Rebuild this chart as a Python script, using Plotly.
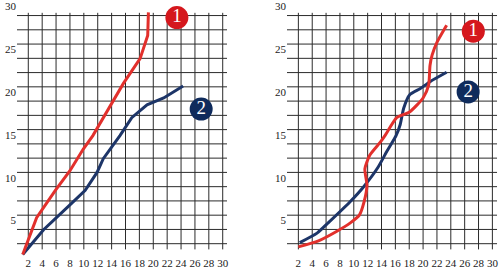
import plotly.graph_objects as go

# ---------------- data ----------------
x_ticks = list(range(2, 31, 2))
y_labels = [5, 10, 15, 20, 25, 30]
y_grid = [k * 5 / 3 for k in range(1, 18)]

# left chart
L_red_x = [1.2, 3.2, 5.9, 8.0, 9.9, 11.3, 15.7, 18.1, 19.2, 19.3]
L_red_y = [0.4, 4.7, 7.9, 10.2, 12.7, 14.3, 20.4, 23.3, 26.0, 28.7]
L_blue_x = [1.2, 4.2, 8.0, 10.2, 11.9, 12.8, 15.2, 16.9, 19.1, 21.5, 24.3]
L_blue_y = [0.4, 3.3, 6.2, 7.9, 10.0, 11.6, 14.3, 16.4, 17.9, 18.7, 20.1]

# right chart
R_red_x = [2.0, 4.9, 7.5, 9.5, 10.8, 11.5, 11.9, 11.6, 12.3, 13.8, 14.5, 16.2, 18.1, 20.0, 20.8, 21.0, 21.3, 22.0, 23.4]
R_red_y = [1.3, 2.0, 3.1, 4.1, 5.0, 6.6, 8.5, 10.4, 12.0, 13.5, 14.3, 16.4, 17.1, 18.7, 20.2, 22.5, 23.7, 25.2, 27.2]
R_blue_x = [2.2, 4.7, 6.3, 9.5, 11.4, 13.5, 14.8, 16.1, 16.7, 17.2, 18.1, 19.6, 21.0, 23.4]
R_blue_y = [1.8, 2.9, 4.1, 6.6, 8.3, 10.6, 12.5, 14.3, 15.6, 17.5, 19.1, 19.8, 20.6, 21.7]

badge_labels = ["1", "2"]
L_badge_x = [23.4, 26.9]
L_badge_y = [28.1, 17.4]
R_badge_x = [27.25, 26.5]
R_badge_y = [26.5, 19.4]

# grid extents (data coords)
GRID_X = {"L": (0.37, 30.62), "R": (0.36, 30.67)}
GRID_Y = (1.0, 28.65)

RED = "#e2302c"
NAVY = "#1d3568"
BADGE_RED = "#d5171d"
BADGE_NAVY = "#0f2b5c"
GRID = "#2b2b2b"
FONT = "Liberation Serif"

fig = go.Figure()


def grid_trace(xa, ya, gx):
    xs, ys = [], []
    for v in y_grid:
        xs += [gx[0], gx[1], None]
        ys += [v, v, None]
    for v in x_ticks:
        xs += [v, v, None]
        ys += [GRID_Y[0], GRID_Y[1], None]
    return go.Scatter(x=xs, y=ys, mode="lines", line=dict(color=GRID, width=1),
                      xaxis=xa, yaxis=ya, hoverinfo="skip", showlegend=False)


fig.add_trace(grid_trace("x", "y", GRID_X["L"]))
fig.add_trace(grid_trace("x2", "y2", GRID_X["R"]))

fig.add_trace(go.Scatter(x=L_blue_x, y=L_blue_y, mode="lines", line=dict(color=NAVY, width=3),
                         xaxis="x", yaxis="y", showlegend=False))
fig.add_trace(go.Scatter(x=L_red_x, y=L_red_y, mode="lines", line=dict(color=RED, width=3),
                         xaxis="x", yaxis="y", showlegend=False))
fig.add_trace(go.Scatter(x=R_blue_x, y=R_blue_y, mode="lines",
                         line=dict(color=NAVY, width=3, shape="spline", smoothing=0.6),
                         xaxis="x2", yaxis="y2", showlegend=False))
fig.add_trace(go.Scatter(x=R_red_x, y=R_red_y, mode="lines",
                         line=dict(color=RED, width=3, shape="spline", smoothing=0.6),
                         xaxis="x2", yaxis="y2", showlegend=False))

for bx, by, xa, ya in [(L_badge_x, L_badge_y, "x", "y"), (R_badge_x, R_badge_y, "x2", "y2")]:
    fig.add_trace(go.Scatter(
        x=bx, y=by, mode="markers+text", text=badge_labels, textposition="middle center",
        marker=dict(size=23, color=[BADGE_RED, BADGE_NAVY], line=dict(width=0)),
        textfont=dict(family=FONT, size=19, color="white"),
        xaxis=xa, yaxis=ya, showlegend=False, cliponaxis=False))

# invisible carriers so the label axes are drawn
for xa, ya in [("x", "y3"), ("x2", "y4")]:
    fig.add_trace(go.Scatter(x=[x_ticks[0]], y=[y_labels[0]], mode="markers",
                             marker=dict(size=1, opacity=0), xaxis=xa, yaxis=ya,
                             hoverinfo="skip", showlegend=False))

YR = [-1.174, 29.80]
SHIFT = 0.62
tickfont = dict(family=FONT, size=11, color="#1a1a1a")

xcommon = dict(tickmode="array", tickvals=x_ticks, ticktext=[str(v) for v in x_ticks],
               showgrid=False, zeroline=False, showline=False, ticks="",
               tickfont=tickfont, anchor="free", position=0.048)
ycommon = dict(range=YR, showgrid=False, zeroline=False, showline=False,
               showticklabels=False, ticks="")
ylab = dict(range=[YR[0] + SHIFT, YR[1] + SHIFT], tickmode="array", tickvals=y_labels,
            ticktext=[str(v) for v in y_labels], showgrid=False, zeroline=False,
            showline=False, ticks="", tickfont=tickfont, side="left",
            ticklabeloverflow="allow")

fig.update_layout(
    width=503, height=269, margin=dict(l=0, r=0, t=0, b=0),
    paper_bgcolor="white", plot_bgcolor="rgba(0,0,0,0)",
    xaxis=dict(domain=[17 / 503, 230 / 503], range=[0.374, 31.05], **xcommon),
    xaxis2=dict(domain=[287 / 503, 500 / 503], range=[0.361, 31.10], **xcommon),
    yaxis=dict(domain=[0, 1], anchor="x", **ycommon),
    yaxis2=dict(domain=[0, 1], anchor="x2", **ycommon),
    yaxis3=dict(overlaying="y", anchor="x", **ylab),
    yaxis4=dict(overlaying="y2", anchor="x2", **ylab),
)

fig.write_html("out.html")
